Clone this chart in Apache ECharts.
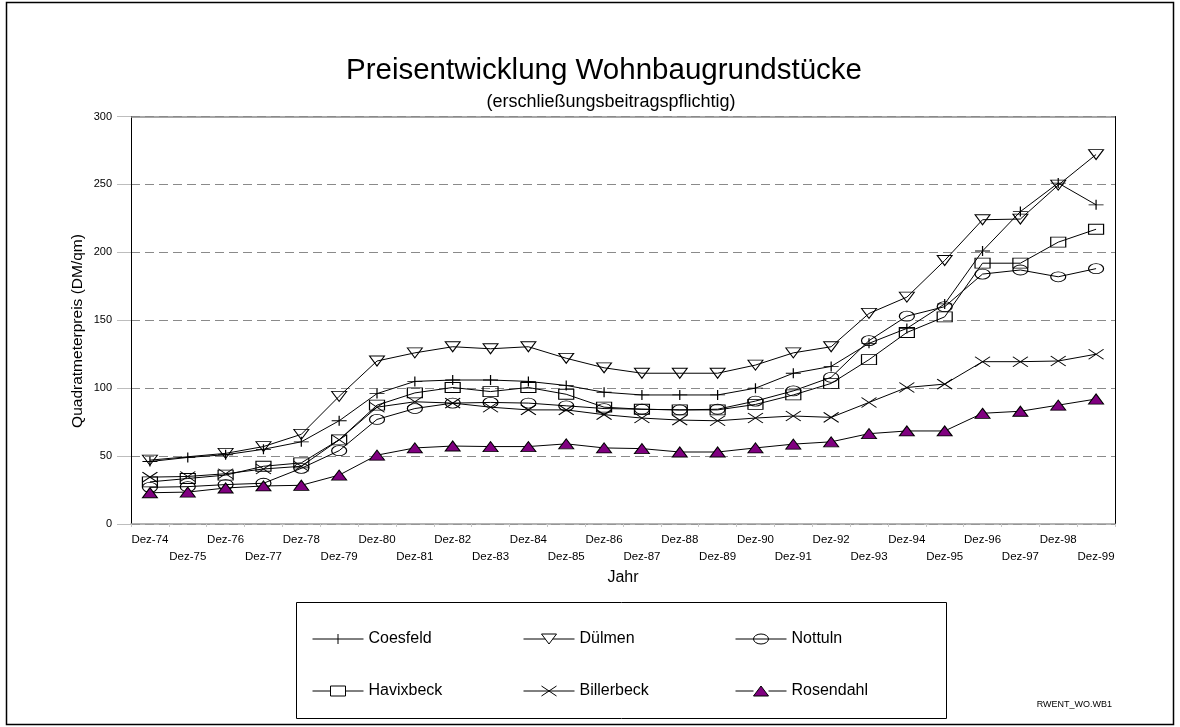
<!DOCTYPE html>
<html>
<head>
<meta charset="utf-8">
<script src="https://cdn.jsdelivr.net/npm/echarts@6/dist/echarts.min.js"></script>
<style>
  html, body { margin: 0; padding: 0; background: #fff; }
  #chart { width: 1180px; height: 727px; }
</style>
</head>
<body>
<div id="chart"></div>
<script>
// Price per square metre (DM/qm), building land, December of each year
const years = ['Dez-74','Dez-75','Dez-76','Dez-77','Dez-78','Dez-79','Dez-80','Dez-81','Dez-82',
  'Dez-83','Dez-84','Dez-85','Dez-86','Dez-87','Dez-88','Dez-89','Dez-90','Dez-91','Dez-92',
  'Dez-93','Dez-94','Dez-95','Dez-96','Dez-97','Dez-98','Dez-99'];

const coesfeld   = [46, 49, 51, 55, 60.5, 76, 96, 105, 106, 106, 105, 102, 97, 95, 95, 95, 100, 111, 116, 133, 144, 162, 201, 230, 251, 235];
const duelmen    = [47, null, 52, 57, 66, 94, 120, 126, 130.5, 129, 130.5, 122, 115, 111, 111, 111, 117, 126, 130.5, 155, 167, 194, 224, 224.5, 249.5, 272];
const nottuln    = [27, 27.5, 29, 30, 41, 54, 77, 85, 89, 89.5, 89, 87, 85, 84.5, 84, 84.5, 90.5, 98, 108, 135, 153, 160, 184, 187, 182, 188];
const havixbeck  = [31, 33.5, 36, 42.5, 45, 62, 87.5, 96.5, 100.5, 97.5, 100.5, 95.5, 86, 84.5, 84, 84, 88, 95, 103.5, 121, 141, 152.5, 192, 192, 207.5, 217];
const billerbeck = [34.5, 35, 37, 40.5, 42.5, 62, 86, 90, 89, 86, 84, 84, 80.5, 78, 76.5, 76, 78, 79.5, 78.5, 89.5, 100.5, 103, 119.5, 119.5, 120, 125];
const rosendahl  = [23, 23.5, 26.5, 28, 28.5, 36, 50.7, 56, 57.4, 57, 57, 59, 56, 55.5, 53, 53, 56, 58.8, 60.5, 66.5, 68.5, 68.5, 81.5, 83, 87.5, 92];

const yTicks = { min: 0, max: 300, step: 50 };

const FONT = '"Liberation Sans", Arial, sans-serif';

// marker shapes
const SYM = {
  plus:    'path://M0,5L10,5M5,0L5,10',
  cross:   'path://M0,0L10,10M10,0L0,10',
  ellipse: 'path://M0,5A5,5,0,1,1,10,5A5,5,0,1,1,0,5Z',
  down:    'path://M0,0L10,0L5,10Z',
  up:      'path://M5,0L10,10L0,10Z',
  rect:    'rect'
};
// legend icons: line with marker in the middle
const ICON = {
  plus:    'path://M0,5L51,5M25.5,0L25.5,10',
  down:    'path://M0,5L21.75,5M29.25,5L51,5M18,0L33,0L25.5,10Z',
  ellipse: 'path://M0,5L51,5M18,5A7.5,5,0,1,1,33,5A7.5,5,0,1,1,18,5Z',
  rect:    'path://M0,5L18,5M33,5L51,5M18,0L33,0L33,10L18,10Z',
  cross:   'path://M0,5L51,5M18,0L33,10M33,0L18,10',
  up:      'path://M0,5L18,5M33,5L51,5M25.5,0L33,10L18,10Z'
};

const hollow = { color: 'rgba(0,0,0,0)', borderColor: '#000', borderWidth: 1 };
const filled = { color: '#800080', borderColor: '#000', borderWidth: 1 };

const seriesDefs = [
  { name: 'Coesfeld',   data: coesfeld,   sym: 'plus',    style: hollow },
  { name: 'Dülmen',     data: duelmen,    sym: 'down',    style: hollow },
  { name: 'Nottuln',    data: nottuln,    sym: 'ellipse', style: hollow },
  { name: 'Havixbeck',  data: havixbeck,  sym: 'rect',    style: hollow },
  { name: 'Billerbeck', data: billerbeck, sym: 'cross',   style: hollow },
  { name: 'Rosendahl',  data: rosendahl,  sym: 'up',      style: filled }
];

const series = seriesDefs.map((s, i) => ({
  name: s.name,
  type: 'line',
  data: s.data,
  connectNulls: true,
  symbol: SYM[s.sym],
  symbolSize: [15, 10],
  showAllSymbol: true,
  lineStyle: { color: '#000', width: 1 },
  itemStyle: s.style,
  emphasis: { disabled: true },
  silent: true,
  z: 2 + i,
  markLine: i === 0 ? {
    silent: true,
    symbol: 'none',
    label: { show: false },
    lineStyle: { color: '#8a8a8a', type: 'solid', width: 1.5 },
    data: [{ yAxis: yTicks.max }]
  } : undefined
}));

// legend: 3 columns x 2 rows inside a framed box
const legCols = [312, 523, 735];
const legRows = [636, 688];
const legends = seriesDefs.map((s, i) => ({
  data: [{ name: s.name, icon: ICON[s.sym], itemStyle: s.style }],
  left: legCols[i % 3],
  top: legRows[Math.floor(i / 3)] - 5,
  itemWidth: 51,
  itemHeight: 10,
  padding: 0,
  selectedMode: false,
  textStyle: { fontFamily: FONT, fontSize: 16, color: '#000' }
}));

const chart = echarts.init(document.getElementById('chart'), null, { renderer: 'canvas' });
chart.setOption({
  animation: false,
  backgroundColor: '#fff',
  textStyle: { fontFamily: FONT },
  grid: { left: 131, right: 65, top: 116.5, bottom: 203 },
  legend: legends,
  xAxis: {
    type: 'category',
    data: years,
    boundaryGap: true,
    name: 'Jahr',
    nameLocation: 'middle',
    nameGap: 44,
    nameTextStyle: { fontFamily: FONT, fontSize: 16, color: '#000' },
    axisLine: { lineStyle: { color: '#9a9a9a', width: 1.5 } },
    axisTick: { show: true, interval: 0, length: 3, lineStyle: { color: '#c8c8c8' } },
    axisLabel: {
      interval: 0,
      margin: 7,
      fontFamily: FONT,
      fontSize: 11.5,
      lineHeight: 17,
      color: '#000',
      formatter: (v, idx) => (idx % 2 ? '\n' + v : v)
    },
    splitLine: { show: false }
  },
  yAxis: [{
    type: 'value',
    min: yTicks.min,
    max: yTicks.max,
    interval: yTicks.step,
    axisLine: { show: true, lineStyle: { color: '#000', width: 1 } },
    axisTick: { show: true, length: 14, lineStyle: { color: '#bdbdbd' } },
    axisLabel: { margin: 19, fontFamily: FONT, fontSize: 11, color: '#000' },
    splitLine: { show: true, lineStyle: { color: '#8a8a8a', type: [9, 5], width: 1 } }
  }, {
    type: 'value',
    position: 'right',
    min: yTicks.min,
    max: yTicks.max,
    interval: yTicks.step,
    axisLine: { show: true, lineStyle: { color: '#000', width: 1 } },
    axisTick: { show: false },
    axisLabel: { show: false },
    splitLine: { show: false }
  }],
  series: series,
  graphic: [
    { type: 'rect', silent: true, z: 0,
      shape: { x: 6.5, y: 2.5, width: 1167, height: 722 },
      style: { fill: 'none', stroke: '#000', lineWidth: 1.5 } },
    { type: 'text', silent: true, x: 604, y: 71,
      style: { text: 'Preisentwicklung Wohnbaugrundstücke', font: '29.5px ' + FONT, fill: '#000', align: 'center', verticalAlign: 'middle' } },
    { type: 'text', silent: true, x: 611, y: 102,
      style: { text: '(erschließungsbeitragspflichtig)', font: '18px ' + FONT, fill: '#000', align: 'center', verticalAlign: 'middle' } },
    { type: 'text', silent: true, x: 78, y: 331, rotation: Math.PI / 2,
      style: { text: 'Quadratmeterpreis (DM/qm)', font: '15.5px ' + FONT, fill: '#000', align: 'center', verticalAlign: 'middle' } },
    { type: 'rect', silent: true,
      shape: { x: 296.5, y: 602.5, width: 650, height: 116 },
      style: { fill: 'none', stroke: '#000', lineWidth: 1 } },
    { type: 'text', silent: true, x: 1112, y: 705,
      style: { text: 'RWENT_WO.WB1', font: '9px ' + FONT, fill: '#000', align: 'right', verticalAlign: 'middle' } }
  ]
});
</script>
</body>
</html>
